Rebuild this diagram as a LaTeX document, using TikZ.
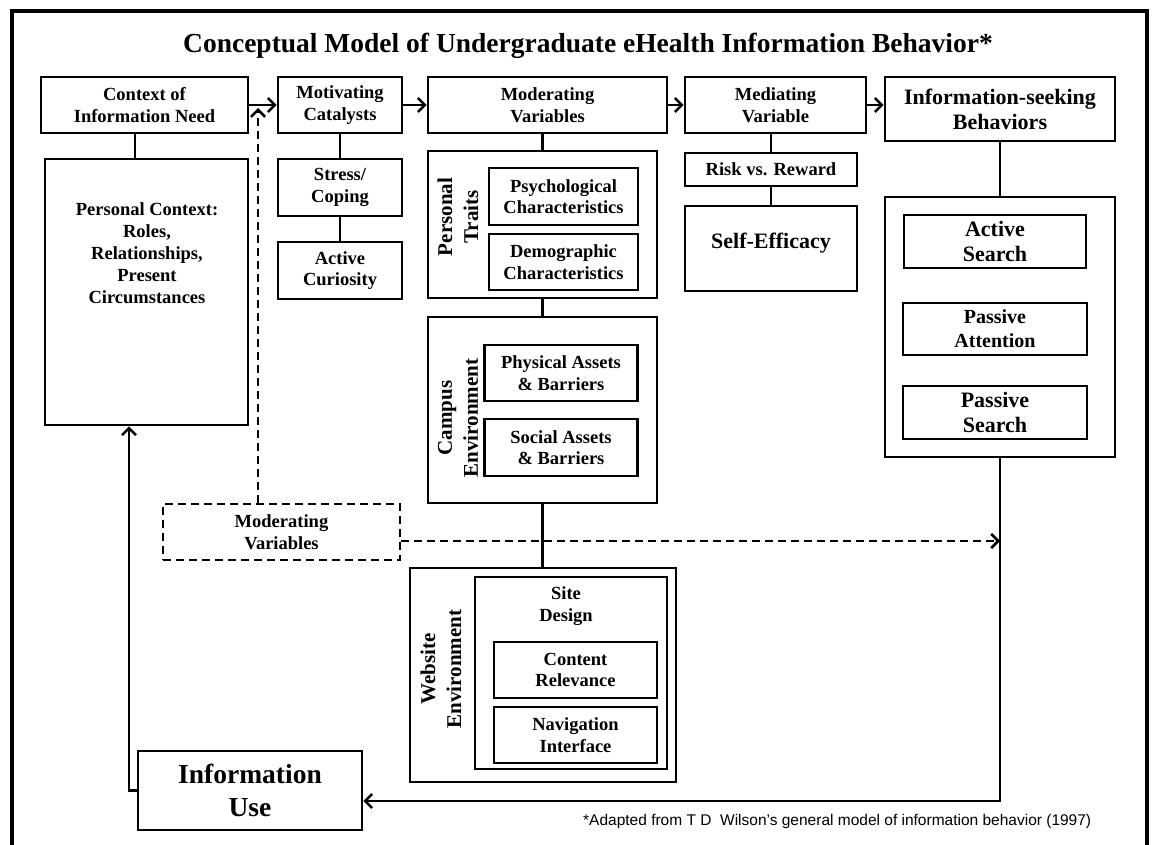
\documentclass[tikz,border=0pt]{standalone}
\usepackage{fontspec}
\setmainfont{Liberation Serif}
\newfontfamily\arialf{Liberation Sans}
\usetikzlibrary{arrows.meta}
\begin{document}
\begin{tikzpicture}[x=1pt,y=-1pt,
  box/.style={draw, line width=2.6pt, inner sep=0pt, align=center, font={\fontsize{18.5}{21.5}\selectfont\bfseries}},
  txt/.style={inner sep=0pt, align=center, font={\fontsize{18.5}{22}\selectfont\bfseries}},
  big/.style={font={\fontsize{22}{25}\selectfont\bfseries}},
  rot/.style={inner sep=0pt, align=center, rotate=90, font={\fontsize{21}{26}\selectfont\bfseries}},
  conn/.style={line width=2.6pt},
  arr/.style={line width=2.6pt, -{Straight Barb[length=7pt,width=14pt]}},
  darr/.style={line width=2.6pt, dash pattern=on 8pt off 5pt, -{Straight Barb[length=7pt,width=14pt]}},
  dbox/.style={draw, line width=2.6pt, dash pattern=on 8pt off 5pt, inner sep=0pt, align=center, font={\fontsize{18.5}{21.5}\selectfont\bfseries}}]
\useasboundingbox (0,0) rectangle (1154,845);
% outer frame
\draw[line width=4pt] (12,845) -- (12,11) -- (1147,11) -- (1147,845);
\node[inner sep=0pt, font={\fontsize{27.5}{30}\selectfont\bfseries}] (title) at (588,46) {Conceptual Model of Undergraduate eHealth Information Behavior*};
% top row
\node[box, minimum width=207, minimum height=56] (ctx) at (144.5,105) {Context of\\Information Need};
\node[box, minimum width=124, minimum height=56] (mot) at (340,105) {Motivating\\Catalysts};
\node[box, minimum width=239, minimum height=56] (mod) at (547.5,105) {Moderating\\Variables};
\node[box, minimum width=181, minimum height=56] (med) at (775.5,105) {Mediating\\Variable};
\node[box, big, minimum width=230, minimum height=64] (isb) at (1000,109) {Information-seeking\\Behaviors};
\draw[arr] (ctx.east) -- (mot.west);
\draw[arr] (mot.east) -- (mod.west);
\draw[arr] (mod.east) -- (med.west);
\draw[arr] (med.east) -- (med.east -| isb.west);
% column 1
\node[box, minimum width=203, minimum height=266] (pc) at (146.5,292) {};
\node[txt] (pct) at (147,253) {Personal Context:\\Roles,\\Relationships,\\Present\\Circumstances};
\draw[conn] ([xshift=-9.5pt]ctx.south) -- ([xshift=-9.5pt]ctx.south |- pc.north);
% column 2
\node[box, minimum width=124, minimum height=57] (sc) at (340,187.5) {Stress/\\Coping};
\node[box, minimum width=124, minimum height=57] (ac) at (340,270.5) {Active\\Curiosity};
\draw[conn] (mot.south) -- (sc.north);
\draw[conn] (sc.south) -- (ac.north);
% column 3
\node[box, minimum width=229, minimum height=147] (pt) at (542.5,224.5) {};
\node[rot] (ptl) at (458,217) {Personal\\Traits};
\node[box, minimum width=149, minimum height=57] (psy) at (563.5,196.5) {Psychological\\Characteristics};
\node[box, minimum width=149, minimum height=56] (dem) at (563.5,262) {Demographic\\Characteristics};
\node[box, minimum width=229, minimum height=186] (ce) at (542.5,410) {};
\node[rot] (cel) at (458,418) {Campus\\Environment};
\node[box, minimum width=153, minimum height=56] (phy) at (561,373) {Physical Assets\\\& Barriers};
\node[box, minimum width=153, minimum height=57] (soc) at (561,447.5) {Social Assets\\\& Barriers};
\node[box, minimum width=266, minimum height=214] (we) at (543,675) {};
\node[rot] (wel) at (441,669) {Website\\Environment};
\node[box, minimum width=192, minimum height=192] (sd) at (571,673) {};
\node[txt] (sdt) at (566,606) {Site\\Design};
\node[box, minimum width=163, minimum height=56] (cr) at (575.5,670) {Content\\Relevance};
\node[box, minimum width=163, minimum height=56] (ni) at (575.5,735) {Navigation\\Interface};
\draw[conn] (pt.north) -- (pt.north |- mod.south);
\draw[conn] (pt.south) -- (ce.north);
\draw[conn] (ce.south) -- (ce.south |- we.north);
% column 4
\node[box, minimum width=172, minimum height=33] (rr) at (771,169.5) {Risk vs. Reward};
\node[box, minimum width=172, minimum height=85] (se) at (771,248.5) {};
\node[txt, big] (set) at (771,243) {Self-Efficacy};
\draw[conn] (rr.north) -- (rr.north |- med.south);
\draw[conn] (rr.south) -- (se.north);
% column 5
\node[box, minimum width=230, minimum height=260] (ob) at (1000,327) {};
\node[box, big, minimum width=182, minimum height=53] (as) at (995,241.5) {Active\\Search};
\node[box, minimum width=184, minimum height=52, font={\fontsize{20}{24}\selectfont\bfseries}] (pa) at (995,329) {Passive\\Attention};
\node[box, big, minimum width=184, minimum height=53] (ps) at (995,412.5) {Passive\\Search};
\draw[conn] (isb.south) -- (ob.north);
% information use
\node[box, minimum width=224, minimum height=79, font={\fontsize{27.5}{33}\selectfont\bfseries}] (iu) at (250,790.5) {Information\\Use};
\coordinate (rc) at (1000,801);
\draw[arr] (ob.south) -- (rc) -- (iu.east |- rc);
\coordinate (lc) at (129,790.5);
\draw[arr] (iu.west) -- (lc) -- (lc |- pc.south);
% dashed moderating variables
\node[dbox, minimum width=237, minimum height=56] (dmv) at (281.5,532) {Moderating\\Variables};
\coordinate (dtop) at (258,108);
\draw[darr] (dmv.north -| dtop) -- (dtop);
\draw[darr] ([yshift=-9pt]dmv.east) -- ([yshift=-9pt]dmv.east -| ob.south);
% footnote
\node[inner sep=0pt, anchor=base west, font={\arialf\fontsize{15.5}{18}\selectfont}] (fn) at (583,825) {*Adapted from T D\ \ Wilson’s general model of information behavior (1997)};
\end{tikzpicture}
\end{document}
